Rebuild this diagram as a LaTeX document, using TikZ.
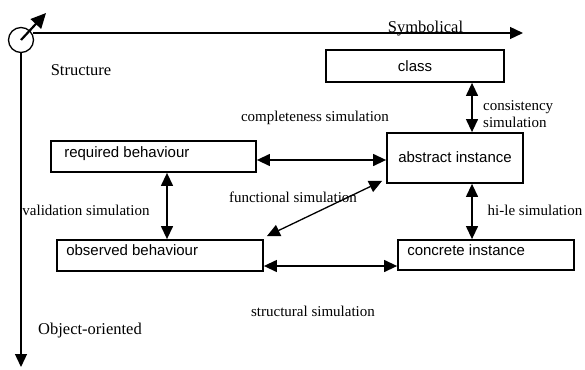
\documentclass[tikz,border=0pt]{standalone}
\usepackage{fontspec}
\setmainfont{Liberation Serif}
\newfontfamily\boxfont{Liberation Sans}
\usetikzlibrary{arrows.meta,calc}
\tikzset{
  boxnode/.style={draw, line width=1.8pt, rectangle, inner sep=0pt},
  boxtext/.style={font=\boxfont\fontsize{15}{18}\selectfont, inner sep=0pt},
  lbl/.style={font=\fontsize{15}{18}\selectfont, inner sep=0pt},
  axlbl/.style={font=\fontsize{16.5}{20}\selectfont, inner sep=0pt},
  conn/.style={line width=1.3pt, {Triangle[length=13pt,width=12pt]}-{Triangle[length=13pt,width=12pt]}},
  axis/.style={line width=1.3pt, -{Triangle[length=13pt,width=12pt]}}
}
\begin{document}
\begin{tikzpicture}[x=1pt,y=-1pt]
\useasboundingbox (0,0) rectangle (585,369);
% origin and axes
\node[draw, circle, line width=1.3pt, minimum size=25pt, inner sep=0pt] (orig) at (21,40) {};
\coordinate (ztip) at (46,13);
\coordinate (hend) at (523,33);
\coordinate (vend) at (21,367);
\draw[line width=2.2pt, -{Triangle[length=15pt,width=14pt]}] (orig.center) -- (ztip);
\draw[axis] (orig.east |- hend) ++(-1,0) -- (hend);
\draw[axis] (orig.south) -- (vend);
\node[axlbl] (struct) at (81,70) {Structure};
\node[axlbl, anchor=base] (symb) at (425.5,33) {Symbolical};
\node[axlbl] (oo) at (90,331) {Object-oriented};
% boxes
\node[boxnode, minimum width=178pt, minimum height=32pt] (class) at (415,66) {};
\node[boxtext] (classT) at (class.center) {class};
\node[boxnode, minimum width=136pt, minimum height=50pt] (abs) at (455,158) {};
\node[boxtext] (absT) at (455,157) {abstract instance};
\node[boxnode, minimum width=205pt, minimum height=31pt] (req) at (153.5,156.5) {};
\node[boxtext, anchor=west] (reqT) at ($(req.west)+(14,-3)$) {required behaviour};
\node[boxnode, minimum width=206pt, minimum height=31pt] (obs) at (160,255.5) {};
\node[boxtext, anchor=west] (obsT) at ($(obs.west)+(10,-5.5)$) {observed behaviour};
\node[boxnode, minimum width=176pt, minimum height=30pt] (conc) at (486,255) {};
\node[boxtext, anchor=west] (concT) at ($(conc.west)+(10,-5)$) {concrete instance};
% connectors
\coordinate (xr) at (472,0);
\coordinate (xl) at (167,0);
\coordinate (yt) at (0,160);
\coordinate (yb) at (0,266);
\draw[conn] (class.south -| xr) -- (abs.north -| xr);
\draw[conn] (req.east |- yt) -- (abs.west |- yt);
\draw[conn] (req.south -| xl) -- (obs.north -| xl);
\draw[conn] (abs.south -| xr) -- (conc.north -| xr);
\draw[conn] (obs.east |- yb) -- (conc.west |- yb);
\draw[conn] ($(obs.north east)+(3,-3)$) -- ($(abs.south west)+(-4,-3)$);
% labels
\node[lbl] (compl) at (315,118) {completeness simulation};
\node[lbl, align=left, anchor=west] (cons) at (483,114) {consistency\\[-0.5pt]simulation};
\node[lbl] (func) at (293,197) {functional simulation};
\node[lbl] (valid) at (86,210) {validation simulation};
\node[lbl] (hile) at (535,210) {hi-le simulation};
\node[lbl] (structsim) at (313,311) {structural simulation};
\end{tikzpicture}
\end{document}
